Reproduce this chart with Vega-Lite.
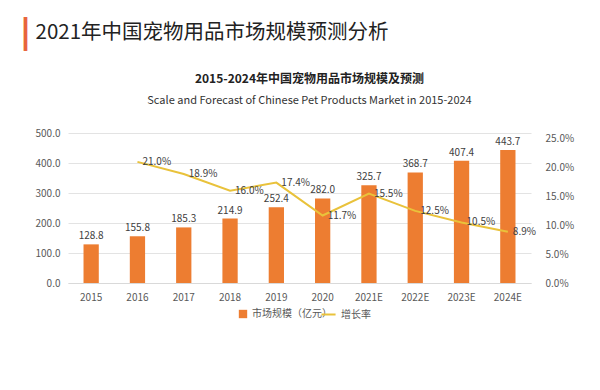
{
  "$schema": "https://vega.github.io/schema/vega-lite/v6.json",
  "autosize": "none",
  "width": 463,
  "height": 150,
  "padding": {"left": 68, "top": 133, "right": 69, "bottom": 107},
  "background": "white",
  "config": {
    "font": "Noto Sans CJK SC",
    "view": {"stroke": null},
    "axis": {"labelFont": "Noto Sans CJK SC", "titleFont": "Noto Sans CJK SC"},
    "legend": {"labelFont": "Noto Sans CJK SC"}
  },
  "title": {
    "text": "2015-2024年中国宠物用品市场规模及预测",
    "subtitle": "Scale and Forecast of Chinese Pet Products Market in 2015-2024",
    "anchor": "middle",
    "frame": "group",
    "dx": 10,
    "fontSize": 12,
    "fontWeight": "bold",
    "color": "#222222",
    "subtitleFontSize": 11,
    "subtitleColor": "#333333",
    "subtitlePadding": 9,
    "offset": -91
  },
  "data": {
    "values": [
      {"year": "2015", "size": 128.8, "growth": null},
      {"year": "2016", "size": 155.8, "growth": 0.21},
      {"year": "2017", "size": 185.3, "growth": 0.189},
      {"year": "2018", "size": 214.9, "growth": 0.16},
      {"year": "2019", "size": 252.4, "growth": 0.174},
      {"year": "2020", "size": 282.0, "growth": 0.117},
      {"year": "2021E", "size": 325.7, "growth": 0.155},
      {"year": "2022E", "size": 368.7, "growth": 0.125},
      {"year": "2023E", "size": 407.4, "growth": 0.105},
      {"year": "2024E", "size": 443.7, "growth": 0.089}
    ]
  },
  "encoding": {
    "x": {
      "field": "year",
      "type": "ordinal",
      "sort": null,
      "scale": {"paddingInner": 0.67, "paddingOuter": 0.335},
      "axis": {
        "title": null,
        "labelAngle": 0,
        "labelFontSize": 10,
        "labelColor": "#595959",
        "labelPadding": 9,
        "ticks": false,
        "domainColor": "#d9d9d9"
      }
    }
  },
  "layer": [
    {
      "layer": [
        {
          "mark": {"type": "bar", "color": "#ED7D31"},
          "encoding": {
            "y": {
              "field": "size",
              "type": "quantitative",
              "scale": {"domain": [0, 500]},
              "axis": {
                "title": "2021年中国宠物用品市场规模预测分析",
                "titleAngle": 0,
                "titleX": -33,
                "titleY": -101,
                "titleAlign": "left",
                "titleBaseline": "middle",
                "titleFontSize": 20.5,
                "titleFontWeight": "normal",
                "titleColor": "#222222",
                "tickCount": 5,
                "format": ".1f",
                "labelFontSize": 10,
                "labelColor": "#595959",
                "labelPadding": 8,
                "domain": false,
                "ticks": false,
                "gridColor": "#e3e3e3"
              }
            },
            "fill": {
              "datum": "市场规模（亿元）",
              "type": "nominal",
              "scale": {"range": ["#ED7D31"]},
              "legend": {
                "title": null,
                "orient": "none",
                "legendX": 170,
                "legendY": 176,
                "symbolType": "square",
                "symbolSize": 70,
                "labelFontSize": 10,
                "labelColor": "#595959"
              }
            }
          }
        },
        {
          "mark": {"type": "text", "dy": -8, "fontSize": 10, "color": "#404040"},
          "encoding": {
            "y": {"field": "size", "type": "quantitative"},
            "text": {"field": "size", "type": "quantitative", "format": ".1f"}
          }
        }
      ]
    },
    {
      "transform": [{"filter": "datum.growth != null"}],
      "layer": [
        {
          "mark": {"type": "line", "strokeWidth": 2},
          "encoding": {
            "y": {
              "field": "growth",
              "type": "quantitative",
              "scale": {"domain": [0, 0.25]},
              "axis": {
                "orient": "right",
                "title": "|",
                "titleAngle": 0,
                "titleX": -506,
                "titleY": -101,
                "titleAlign": "center",
                "titleBaseline": "middle",
                "titleFontSize": 33,
                "titleFontWeight": "bold",
                "titleColor": "#E8643C",
                "titleFont": "DejaVu Sans",
                "tickCount": 5,
                "format": ".1%",
                "labelFontSize": 10,
                "labelColor": "#595959",
                "labelPadding": 14,
                "domain": false,
                "ticks": false,
                "grid": false
              }
            },
            "stroke": {
              "datum": "增长率",
              "type": "nominal",
              "scale": {"range": ["#E9C23B"]},
              "legend": {
                "title": null,
                "orient": "none",
                "legendX": 252,
                "legendY": 173,
                "symbolType": "stroke",
                "symbolStrokeColor": "#E9C23B",
                "symbolStrokeWidth": 2,
                "symbolSize": 200,
                "labelFontSize": 10,
                "labelColor": "#595959"
              }
            }
          }
        },
        {
          "mark": {"type": "text", "align": "left", "dx": 5, "baseline": "middle", "fontSize": 10, "color": "#404040"},
          "encoding": {
            "y": {"field": "growth", "type": "quantitative"},
            "text": {"field": "growth", "type": "quantitative", "format": ".1%"}
          }
        }
      ]
    }
  ],
  "resolve": {"scale": {"y": "independent"}}
}
